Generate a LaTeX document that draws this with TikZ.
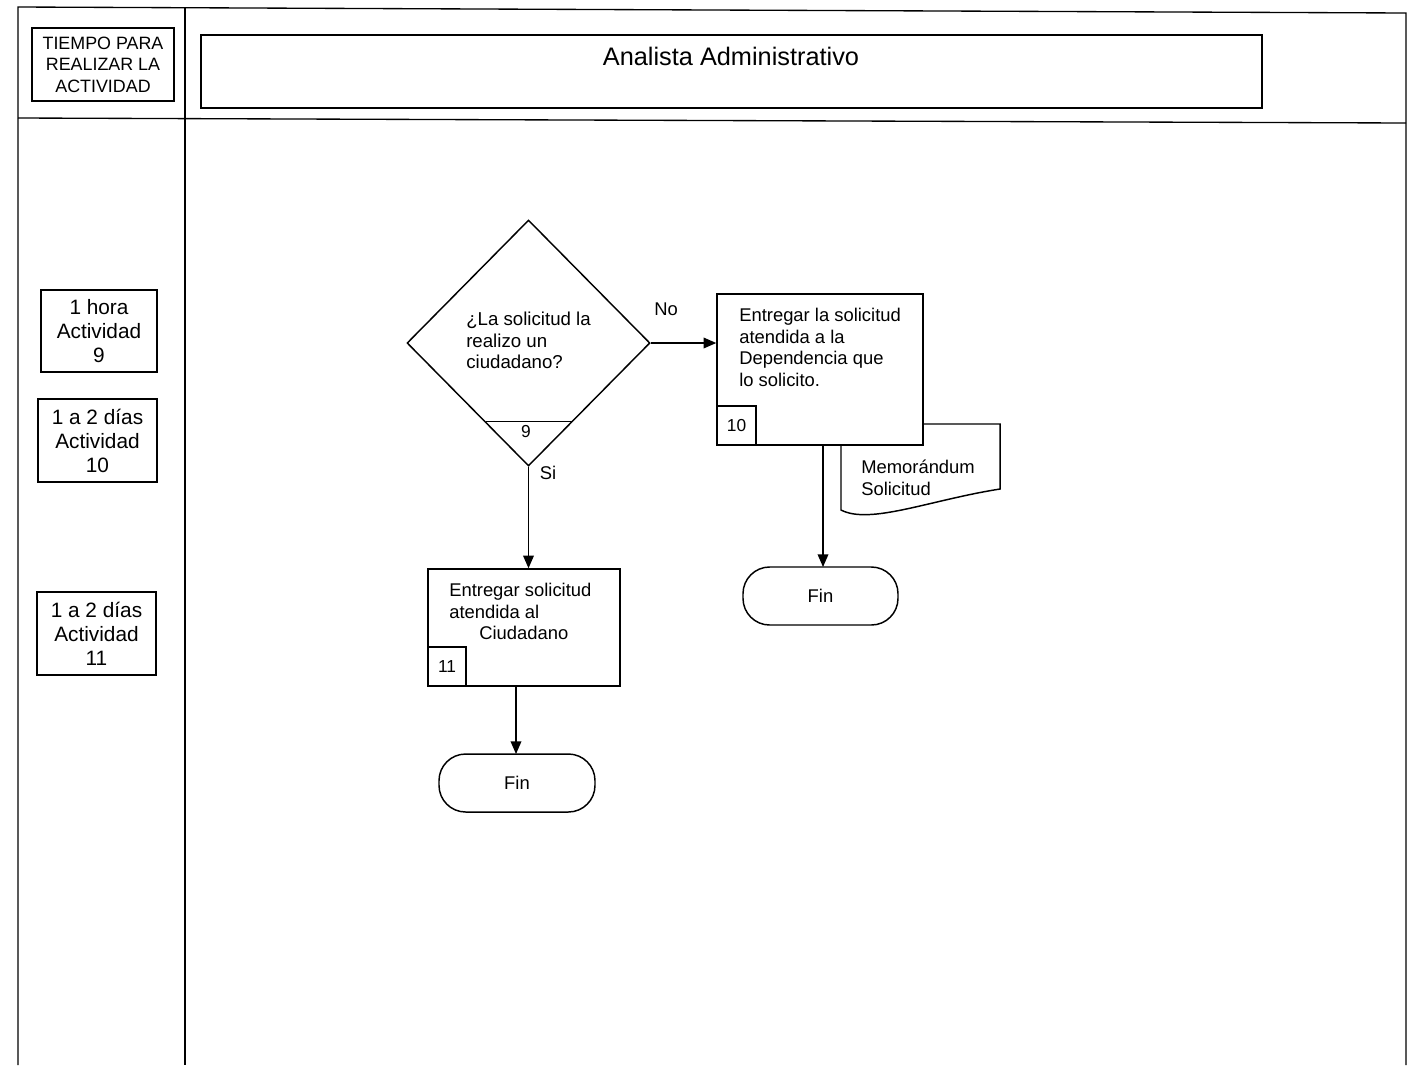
\documentclass[tikz,border=0pt]{standalone}
\usepackage{fontspec}
\setmainfont{Liberation Sans}
\usetikzlibrary{arrows.meta,shapes.geometric,fit}
\begin{document}
\begin{tikzpicture}[x=0.75pt,y=-0.75pt,
  frame/.style={line width=1pt},
  boxline/.style={draw,line width=1.1pt,fill=white,inner sep=0pt},
  term/.style={draw,line width=1.1pt,fill=white,inner sep=0pt,rounded corners=20pt},
  arr/.style={line width=1pt,-{Triangle[length=9.5pt,width=8pt]}},
  btext/.style={inner sep=0pt,anchor=north west,align=left,font=\fontsize{13.8}{16.2}\selectfont},
  ttext/.style={inner sep=0pt,align=center,font=\fontsize{15.6}{18}\selectfont},
  lbl/.style={inner sep=0pt,font=\fontsize{13.8}{16}\selectfont},
  numtext/.style={inner sep=0pt,font=\fontsize{13}{15}\selectfont}]
\useasboundingbox (0,0) rectangle (1408,1065);

% outer frame
\draw[frame] (18,1065) -- (18,7) -- (1406,13) -- (1406,1065);
\draw[frame] (18,118) -- (1406,123);
\draw[frame] (185,7) -- (185,1065);

% header
\node[boxline,fit={(32,28) (174,101)}] (hdr) {};
\node[inner sep=0pt,align=center,font=\fontsize{13.4}{16.2}\selectfont] (hdrt) at (hdr.center) {TIEMPO PARA\\REALIZAR LA\\ACTIVIDAD};
\node[boxline,fit={(201,35) (1262,108)}] (title) {};
\node[inner sep=0pt,font=\fontsize{19}{22}\selectfont] (titlet) at (731,56) {Analista Administrativo};

% time boxes
\node[boxline,fit={(41,290) (157,372)}] (t9) {};
\node[ttext] (t9t) at (t9.center) {1 hora\\Actividad\\9};
\node[boxline,fit={(38,399) (157,482)}] (t10) {};
\node[ttext] (t10t) at (t10.center) {1 a 2 días\\Actividad\\10};
\node[boxline,fit={(37,592) (156,675)}] (t11) {};
\node[ttext] (t11t) at (t11.center) {1 a 2 días\\Actividad\\11};

% decision 9
\node[diamond,draw,line width=1.1pt,inner sep=0pt,minimum width=182.25pt,minimum height=184.5pt] (d9) at (528.5,343) {};
\coordinate (d9l) at (486,421);
\coordinate (d9r) at (573,421);
\draw[line width=0.7pt] (d9l) -- (d9r);
\node[numtext] (d9n) at (526,432) {9};
\node[btext,font=\fontsize{14}{16}\selectfont] (d9t) at (466,312) {¿La solicitud la\\realizo un\\ciudadano?};

% document (behind box 10)
\draw[line width=1.1pt,fill=white] (841,446) -- (841,510) .. controls (870,525) and (930,500) .. (1000,489) -- (1000,424) -- (923,424);
\node[btext] (doct) at (861,460) {Memorándum\\Solicitud};

% box 10
\node[boxline,fit={(717,294) (923,445)}] (b10) {};
\node[btext] (b10t) at (739,308) {Entregar la solicitud\\atendida a la\\Dependencia que\\lo solicito.};
\node[boxline,fit={(717,406) (756,445)}] (b10n) {};
\node[numtext] at (b10n.center) {10};

% box 11
\node[boxline,fit={(428,569) (620,686)}] (b11) {};
\node[btext] (b11t) at (449,583) {Entregar solicitud\\atendida al};
\node[btext] (b11t3) at (479,626) {Ciudadano};
\node[boxline,fit={(428,647) (466,686)}] (b11n) {};
\node[numtext] at (b11n.center) {11};

% terminators
\node[term,fit={(743,567) (898,625)}] (fin2) {};
\node[lbl] at (fin2.center) {Fin};
\node[term,fit={(439,754) (595,812)}] (fin1) {};
\node[lbl] at (fin1.center) {Fin};

% connectors
\draw[arr] (d9.east) -- (b10.west |- d9.east);
\node[lbl] (no) at (666,309) {No};
\draw[arr] (d9.south) -- (d9.south |- b11.north);
\node[lbl] (si) at (548,473) {Si};
\draw[arr] (823,445) -- (823,567);
\draw[arr] (516,686) -- (516,754);
\end{tikzpicture}
\end{document}
